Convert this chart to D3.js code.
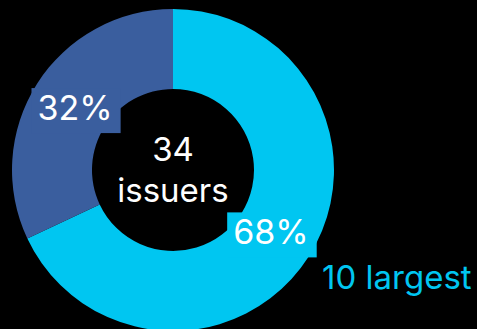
<!DOCTYPE html>
<html>
<head>
<meta charset="utf-8">
<script src="https://cdn.jsdelivr.net/npm/d3@7"></script>
<style>
  html, body { margin: 0; padding: 0; background: #000; }
  svg text { font-family: Inter, "Noto Sans", sans-serif; }
</style>
</head>
<body>
<div id="chart"></div>
<script>
// data
const categories = ['10 largest', 'Others'];
const shares = [68, 32];
const colors = ['#00C6F1', '#3A5E9E'];
const centerLines = ['34', 'issuers'];

const svgWidth = 477;
const svgHeight = 329;
const cx = 173, cy = 170;
const outerR = 161, innerR = 81;

const svg = d3.select('#chart')
    .append('svg')
    .attr('width', svgWidth)
    .attr('height', svgHeight);

const g = svg.append('g')
    .attr('transform', `translate(${cx}, ${cy})`);

const pie = d3.pie().sort(null).value(d => d);
const arcs = pie(shares);

const arc = d3.arc().innerRadius(innerR).outerRadius(outerR);
const labelArc = d3.arc().innerRadius(116).outerRadius(116);

g.selectAll('path.slice')
    .data(arcs)
    .enter()
    .append('path')
    .attr('class', 'slice')
    .attr('d', arc)
    .attr('fill', (d, i) => colors[i]);

// percent labels with a box in the slice colour
const labels = g.selectAll('g.lbl')
    .data(arcs)
    .enter()
    .append('g')
    .attr('class', 'lbl')
    .attr('transform', d => `translate(${labelArc.centroid(d)})`);

labels.append('rect')
    .attr('fill', (d, i) => colors[i]);

labels.append('text')
    .attr('text-anchor', 'middle')
    .attr('dy', '0.36em')
    .attr('fill', '#fff')
    .style('font-size', '34px')
    .text(d => d.data + '%');

labels.each(function () {
    const sel = d3.select(this);
    const bb = sel.select('text').node().getBBox();
    sel.select('rect')
        .attr('x', bb.x - 6)
        .attr('y', bb.y + 1)
        .attr('width', bb.width + 14)
        .attr('height', bb.height + 4);
});

// centre text
g.append('text')
    .attr('text-anchor', 'middle')
    .attr('fill', '#fff')
    .style('font-size', '33px')
    .selectAll('tspan')
    .data(centerLines)
    .enter()
    .append('tspan')
    .attr('x', 0)
    .attr('y', (d, i) => -9 + i * 41)
    .text(d => d);

// legend label
svg.append('text')
    .attr('x', 322)
    .attr('y', 289)
    .attr('fill', colors[0])
    .style('font-size', '33px')
    .text(categories[0]);
</script>
</body>
</html>
